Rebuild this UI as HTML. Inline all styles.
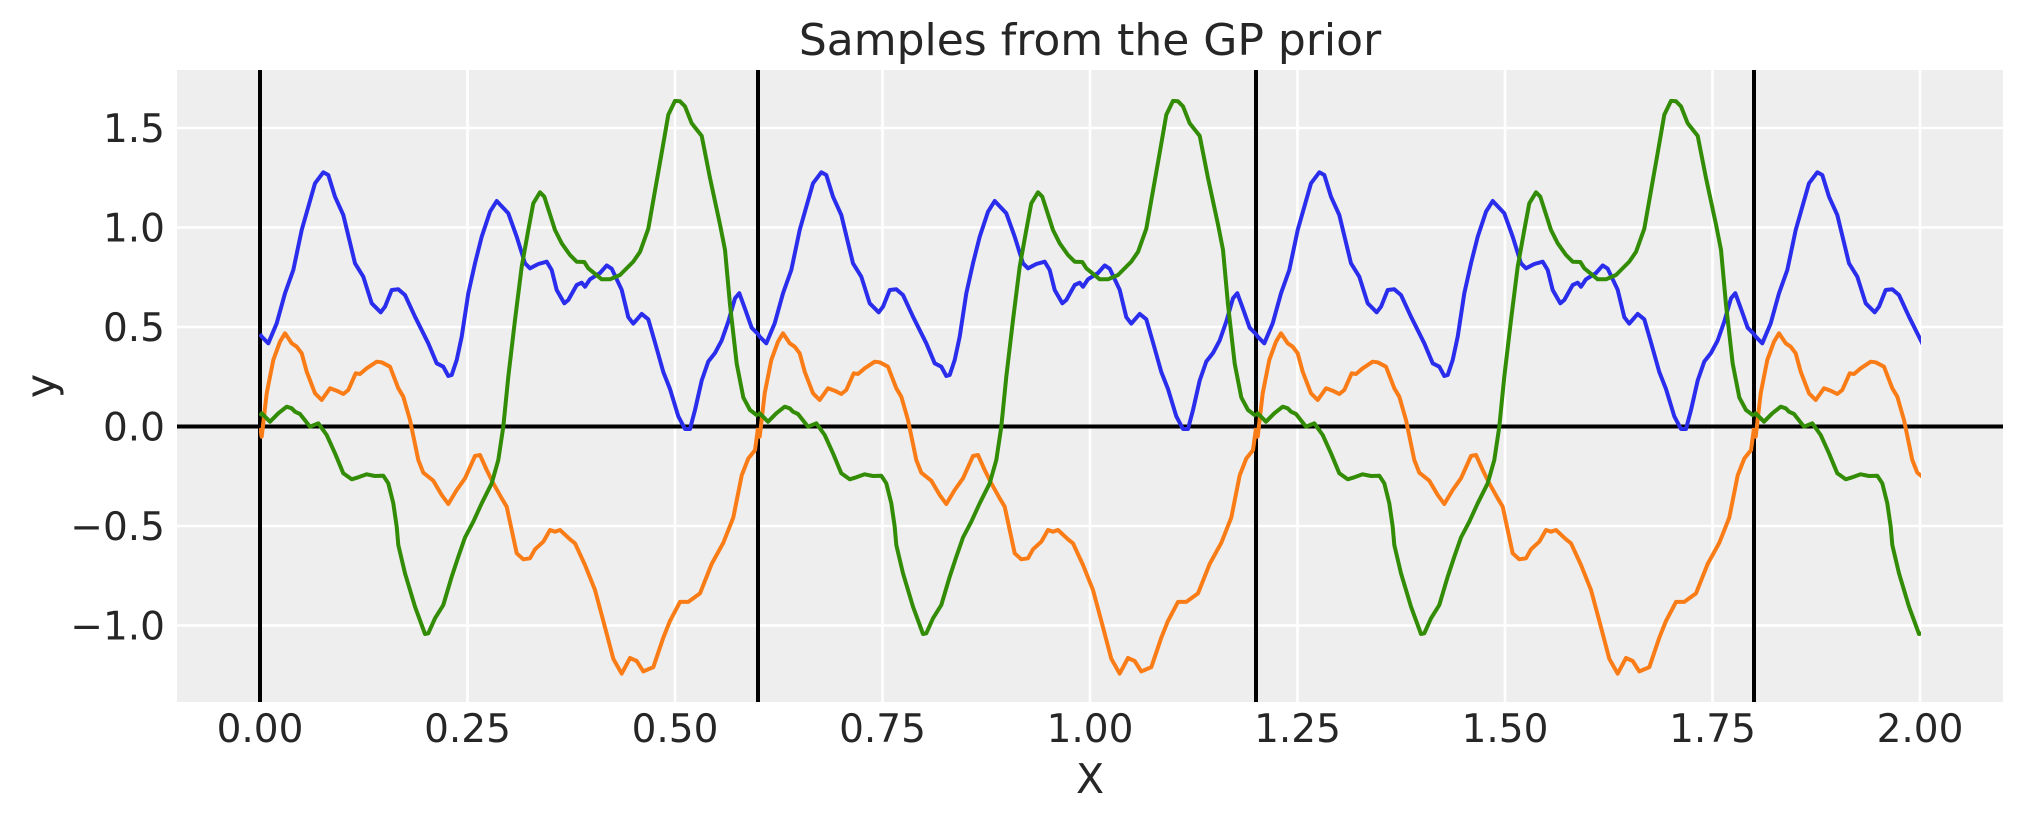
<!DOCTYPE html>
<html><head><meta charset="utf-8"><style>
html,body{margin:0;padding:0;background:#fff;}
svg{display:block;}
text{font-family:"DejaVu Sans","Liberation Sans",sans-serif;fill:#262626;}
</style></head><body>
<svg width="2023" height="823" viewBox="0 0 2023 823" xmlns="http://www.w3.org/2000/svg">
<defs>
<clipPath id="pc"><rect x="259" y="70" width="1662" height="632"/></clipPath>
<g id="blue"><polyline fill="none" stroke="#2a2eec" stroke-width="4" stroke-linejoin="round" points="260,334 261.7,336.7 268.3,343.3 276.7,323.3 285,293.3 293.3,270 301.7,230 315,183.3 323.3,172.3 328.3,175 335,196.7 343.3,215 355,263.3 363.3,276.7 371.7,303.3 380.7,312.3 385,306.7 391.7,290 398.3,289.3 405,295 415,316.7 428.3,343.3 436.7,363.3 443.3,366.7 448.3,376 451.7,375 456.7,360 461.7,336.7 468.3,293.3 475,263.3 481.7,236.7 490,211.7 496.7,201 508.3,213.3 516.7,236.7 525,263.3 530,268.3 538.3,264 546.7,261.7 551.7,270 556.7,290 564.3,303.3 568.3,300 576.7,285 581.7,282.7 585,286.7 590,279.3 600,273 606.7,265.4 611.7,268.7 621.7,289.8 628.3,317.2 633.3,323.6 641.7,313.9 648.3,319.3 655,342.5 663.3,372 670,389 678.3,416.3 685,429 690,429 695,410 701.7,380.5 708.3,361.5 715,353 721.7,340.4 728.3,321.5 735,298.3 739.3,293.2 745,308.8 751.7,327.8 758,334"/></g>
<g id="orange"><polyline fill="none" stroke="#fa7c17" stroke-width="4" stroke-linejoin="round" points="260,428 261.7,436.7 266.7,393.3 273.3,360 280,341.7 285,333.3 291.7,343.3 296.7,346.7 301.7,353.3 306.7,371.7 315,393.3 321.7,400 330,388.3 336.7,390.7 343.3,394 348.3,390 355.7,373.3 360,374 366.7,368.3 376.7,361.7 381.7,362.3 390,366.7 398.3,388.3 403.3,396.7 410,420 418.3,460 423.3,472.7 433.3,480.7 441.7,495 448.3,504 456.7,490 465,478.3 475,456 480,455 486.7,470 493.3,483.3 501.7,498.3 506.7,506.7 516.7,553.3 523.3,559.3 530,558.3 535,549.3 543.3,541.7 550,530 555,531.7 560,530 570,539.3 575,543.3 585,565 595,590 603.3,620.9 613.3,658.8 621.7,673.6 630,658 636.7,661 643.3,671.4 653.3,667.2 663.3,637.7 670,620.9 680,601.9 688.3,601.9 700,593.4 711.7,563.9 723.3,542.8 733.3,517.5 741.7,475.4 748.3,458.5 755,450.1 758,428"/></g>
<g id="green"><polyline fill="none" stroke="#328c06" stroke-width="4" stroke-linejoin="round" points="260,416 261.7,413.3 270,421.7 278.3,413.3 286.7,406.7 291.7,408.3 295,411.7 300,414 310,426.7 318.3,423.3 326.7,435 335,453.3 343.3,473.3 351.7,479.3 358.3,477.3 366.7,474.3 375,476 383.3,475.7 388.3,483.3 393.3,503.3 396.7,526.7 398.3,545 405,573.3 415,606.7 425,634 428.3,633.3 435,618.3 443.3,605 451.7,576.7 458.3,556.7 465,537.5 473.3,521.7 481.7,503.3 491.7,483.3 498.3,460 503.3,426.7 508.3,376.7 515,320 521.7,266.7 528.3,230 533.3,203.3 540,192.3 544.3,196.7 555,230 561.7,243.3 570,255 576.7,261.7 584.3,262 588.3,268.3 601.7,279.3 610,279.3 620,275 633.3,261.6 640,251.9 648.3,228.7 655,190.7 661.7,152.8 668.3,114.8 675,100.9 680,101.3 685,106.4 691.7,123.3 701.7,135.9 710,178 720,224.5 725,249.8 730,304.6 736.7,363.6 743.3,397.4 750,410 758,416"/></g>
</defs>
<rect x="177" y="70" width="1826" height="632" fill="#eeeeee"/>
<g stroke="#ffffff" stroke-width="2.6">
<line x1="260" y1="70" x2="260" y2="702"/><line x1="467.5" y1="70" x2="467.5" y2="702"/><line x1="675" y1="70" x2="675" y2="702"/><line x1="882.5" y1="70" x2="882.5" y2="702"/><line x1="1090" y1="70" x2="1090" y2="702"/><line x1="1297.5" y1="70" x2="1297.5" y2="702"/><line x1="1505" y1="70" x2="1505" y2="702"/><line x1="1712.5" y1="70" x2="1712.5" y2="702"/><line x1="1920" y1="70" x2="1920" y2="702"/>
<line x1="177" y1="128" x2="2003" y2="128"/><line x1="177" y1="227.5" x2="2003" y2="227.5"/><line x1="177" y1="327" x2="2003" y2="327"/><line x1="177" y1="426.5" x2="2003" y2="426.5"/><line x1="177" y1="526" x2="2003" y2="526"/><line x1="177" y1="625.5" x2="2003" y2="625.5"/>
</g>
<g stroke="#000" stroke-width="4">
<line x1="260" y1="70" x2="260" y2="702"/><line x1="758" y1="70" x2="758" y2="702"/><line x1="1256" y1="70" x2="1256" y2="702"/><line x1="1754" y1="70" x2="1754" y2="702"/>
<line x1="177" y1="426.5" x2="2003" y2="426.5"/>
</g>
<g clip-path="url(#pc)">
<use href="#blue"/><use href="#blue" x="498"/><use href="#blue" x="996"/><use href="#blue" x="1494"/>
<use href="#orange"/><use href="#orange" x="498"/><use href="#orange" x="996"/><use href="#orange" x="1494"/>
<use href="#green"/><use href="#green" x="498"/><use href="#green" x="996"/><use href="#green" x="1494"/>
</g>
<g font-size="39" text-anchor="end">
<text x="165" y="142">1.5</text><text x="165" y="241.5">1.0</text><text x="165" y="341">0.5</text><text x="165" y="440.5">0.0</text><text x="165" y="540">−0.5</text><text x="165" y="639.5">−1.0</text>
</g>
<g font-size="39" text-anchor="middle">
<text x="260" y="742">0.00</text><text x="467.5" y="742">0.25</text><text x="675" y="742">0.50</text><text x="882.5" y="742">0.75</text><text x="1090" y="742">1.00</text><text x="1297.5" y="742">1.25</text><text x="1505" y="742">1.50</text><text x="1712.5" y="742">1.75</text><text x="1920" y="742">2.00</text>
</g>
<text x="1090" y="793" font-size="41" text-anchor="middle">X</text>
<text x="0" y="0" font-size="41" text-anchor="middle" transform="translate(55,386) rotate(-90)">y</text>
<text x="1090" y="55" font-size="44" text-anchor="middle">Samples from the GP prior</text>
</svg>
</body></html>
